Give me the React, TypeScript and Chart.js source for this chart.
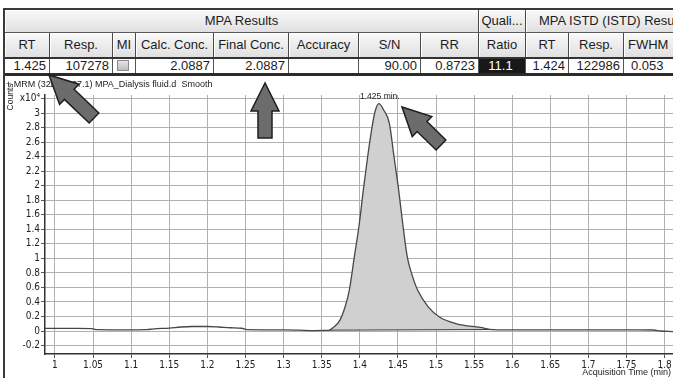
import React, { useEffect, useRef } from "react";
import { Chart, registerables } from "chart.js";

Chart.register(...registerables);

// ---------------- table data ----------------
const groupHeaders = ["MPA Results", "Quali...", "MPA ISTD (ISTD) Results"];
const columnHeaders = ["RT", "Resp.", "MI", "Calc. Conc.", "Final Conc.", "Accuracy", "S/N", "RR", "Ratio", "RT", "Resp.", "FWHM"];
const rowValues = ["1.425", "107278", "", "2.0887", "2.0887", "", "90.00", "0.8723", "11.1", "1.424", "122986", "0.053"];

// ---------------- chromatogram data (Counts x10^4 vs Acquisition Time, min) ----------------
const acqTimes = [
  0.987, 1.0, 1.03, 1.048, 1.055, 1.08, 1.1, 1.12, 1.13, 1.15, 1.165, 1.18, 1.2, 1.215, 1.23, 1.245,
  1.252, 1.28, 1.3, 1.32, 1.34, 1.355, 1.36, 1.3652, 1.374, 1.3806, 1.3862, 1.3928, 1.3994, 1.4046,
  1.4103, 1.4169, 1.4205, 1.425, 1.4315, 1.4388, 1.4449, 1.451, 1.4563, 1.4623, 1.468, 1.476, 1.49,
  1.505, 1.527, 1.558, 1.575, 1.6, 1.65, 1.7, 1.75, 1.785, 1.795, 1.811,
];
const countsE4 = [
  0.035, 0.035, 0.035, 0.034, 0.018, 0.016, 0.016, 0.018, 0.03, 0.04, 0.055, 0.062, 0.062, 0.055, 0.045, 0.038,
  0.018, 0.016, 0.016, 0.012, 0.006, 0.008, 0.012, 0.05, 0.15, 0.33, 0.56, 1.02, 1.48, 1.94,
  2.4, 2.86, 3.04, 3.13, 3.04, 2.86, 2.4, 1.94, 1.48, 1.02, 0.79, 0.56, 0.33,
  0.19, 0.1, 0.05, 0.02, 0.016, 0.016, 0.015, 0.015, 0.014, 0.0, -0.008,
];
const xTickValues = [1, 1.05, 1.1, 1.15, 1.2, 1.25, 1.3, 1.35, 1.4, 1.45, 1.5, 1.55, 1.6, 1.65, 1.7, 1.75, 1.8];
const xTickLabels = ["1", "1.05", "1.1", "1.15", "1.2", "1.25", "1.3", "1.35", "1.4", "1.45", "1.5", "1.55", "1.6", "1.65", "1.7", "1.75", "1.8"];
const yTickValues = [-0.2, 0, 0.2, 0.4, 0.6, 0.8, 1, 1.2, 1.4, 1.6, 1.8, 2, 2.2, 2.4, 2.6, 2.8, 3, 3.2];
const yTickLabels = ["-0.2", "0", "0.2", "0.4", "0.6", "0.8", "1", "1.2", "1.4", "1.6", "1.8", "2", "2.2", "2.4", "2.6", "2.8", "3", "x10\u2074"];
const peakStartTime = 1.36;
const peakEndTime = 1.575;
const peakRT = 1.425;
const peakLabel = "1.425 min.";
const chartTitleParts = ["+ MRM (32", "1.1 -> ", "207.1) MPA_Dialysis fluid.d  Smooth"];
const yAxisTitle = "Counts";
const xAxisTitle = "Acquisition Time (min)";

// ---------------- layout ----------------
const W = 673;
const H = 378;
const X_MIN = 0.9869;
const X_MAX = 1.811;
const Y_MIN = -0.3165;
const Y_MAX = 3.25;
const colEdges = [4, 49, 112, 135, 213, 288, 358, 420, 478, 525, 568, 623, 740];
const groupColSpans = [[0, 8], [8, 9], [9, 12]];
const highlightCol = 8;
const checkboxCol = 2;
const FONT = '"Liberation Sans", Arial, sans-serif';
const NARROW = '"Liberation Sans Narrow", "Arial Narrow", "DejaVu Sans Condensed", "Liberation Sans", sans-serif';
const arrows = [
  { tip: [49, 75], tail: [94, 118] },
  { tip: [265, 83], tail: [265, 138] },
  { tip: [402, 107], tail: [441, 145] },
];

function drawArrow(ctx: CanvasRenderingContext2D, tip: number[], tail: number[]) {
  const headLen = 28, headHalf = 14, shaftHalf = 7;
  const dx = tail[0] - tip[0], dy = tail[1] - tip[1];
  const len = Math.hypot(dx, dy);
  const ux = dx / len, uy = dy / len;
  const px = -uy, py = ux;
  const bx = tip[0] + ux * headLen, by = tip[1] + uy * headLen;
  ctx.save();
  ctx.beginPath();
  ctx.moveTo(tip[0], tip[1]);
  ctx.lineTo(bx + px * headHalf, by + py * headHalf);
  ctx.lineTo(bx + px * shaftHalf, by + py * shaftHalf);
  ctx.lineTo(tail[0] + px * shaftHalf, tail[1] + py * shaftHalf);
  ctx.lineTo(tail[0] - px * shaftHalf, tail[1] - py * shaftHalf);
  ctx.lineTo(bx - px * shaftHalf, by - py * shaftHalf);
  ctx.lineTo(bx - px * headHalf, by - py * headHalf);
  ctx.closePath();
  ctx.fillStyle = "#6c6c6c";
  ctx.fill();
  ctx.lineWidth = 1.5;
  ctx.strokeStyle = "#1e1e1e";
  ctx.lineJoin = "miter";
  ctx.stroke();
  ctx.restore();
}

const decorPlugin = {
  id: "decor",
  beforeDraw(chart: any) {
    const ctx = chart.ctx;
    ctx.save();
    ctx.fillStyle = "#3a3a3a";
    ctx.fillRect(3, 74, 2, H - 74);
    ctx.restore();
  },
  afterDraw(chart: any) {
    const ctx: CanvasRenderingContext2D = chart.ctx;
    const xs = chart.scales.x, ys = chart.scales.y;
    ctx.save();
    ctx.fillStyle = "#222";
    ctx.textBaseline = "middle";
    // title
    ctx.font = `9px ${FONT}`;
    ctx.textAlign = "left";
    ctx.fillText(chartTitleParts[0], 6, 85);
    ctx.fillText(chartTitleParts[1], 50, 85, 17);
    ctx.fillText(chartTitleParts[2], 67, 85);
    // peak label
    const pi = acqTimes.indexOf(peakRT);
    ctx.font = `8.5px ${FONT}`;
    ctx.textAlign = "center";
    ctx.fillText(peakLabel, xs.getPixelForValue(peakRT) + 1, ys.getPixelForValue(countsE4[pi]) - 7);
    // x axis title
    ctx.font = `9px ${FONT}`;
    ctx.textAlign = "right";
    ctx.fillText(xAxisTitle, 671, 373);
    // y axis title
    ctx.save();
    ctx.translate(11, 97);
    ctx.rotate(-Math.PI / 2);
    ctx.font = `8.5px ${FONT}`;
    ctx.textAlign = "center";
    ctx.fillText(yAxisTitle, 0, 0);
    ctx.restore();
    ctx.restore();
    arrows.forEach((a) => drawArrow(ctx, a.tip, a.tail));
  },
};

function ChromChart() {
  const ref = useRef<HTMLCanvasElement | null>(null);
  useEffect(() => {
    if (!ref.current) return;
    const trace = acqTimes.map((t, i) => ({ x: t, y: countsE4[i] }));
    const peakPts = trace.filter((p) => p.x >= peakStartTime && p.x <= peakEndTime);
    const iStart = acqTimes.indexOf(peakStartTime);
    const iEnd = acqTimes.indexOf(peakEndTime);
    const baseLine = [
      { x: peakStartTime, y: countsE4[iStart] },
      { x: peakEndTime, y: countsE4[iEnd] },
    ];
    const fillLevel = (countsE4[iStart] + countsE4[iEnd]) / 2;
    const tickFont = { size: 10, family: NARROW };
    const chart = new Chart(ref.current, {
      type: "line",
      data: {
        datasets: [
          {
            data: trace,
            borderColor: "#474747",
            borderWidth: 1.3,
            pointRadius: 0,
            cubicInterpolationMode: "monotone",
            fill: false,
          },
          {
            data: baseLine,
            borderColor: "#333",
            borderWidth: 1,
            pointRadius: 0,
            fill: false,
          },
          {
            data: peakPts,
            borderWidth: 0,
            borderColor: "rgba(0,0,0,0)",
            backgroundColor: "#d0d0d0",
            pointRadius: 0,
            cubicInterpolationMode: "monotone",
            fill: { value: fillLevel },
          },
        ],
      },
      options: {
        animation: false,
        responsive: false,
        devicePixelRatio: 1,
        layout: { padding: { top: 95, left: 0, right: 0, bottom: 0 } },
        plugins: { legend: { display: false }, tooltip: { enabled: false } },
        scales: {
          x: {
            type: "linear",
            min: X_MIN,
            max: X_MAX,
            afterFit: (s: any) => { s.height = 24; },
            afterBuildTicks: (s: any) => { s.ticks = xTickValues.map((v) => ({ value: v })); },
            ticks: {
              autoSkip: false,
              maxRotation: 0,
              minRotation: 0,
              padding: 1,
              font: tickFont,
              color: "#222",
              callback: (_v: any, i: number) => xTickLabels[i],
            },
            grid: { color: "#b0b0b0", lineWidth: 1, tickLength: 4, tickColor: "#555" },
            border: { color: "#333", width: 1.5 },
          },
          y: {
            type: "linear",
            min: Y_MIN,
            max: Y_MAX,
            afterFit: (s: any) => { s.width = 45; },
            afterBuildTicks: (s: any) => { s.ticks = yTickValues.map((v) => ({ value: v })); },
            ticks: {
              autoSkip: false,
              padding: 1,
              font: tickFont,
              color: "#222",
              callback: (_v: any, i: number) => yTickLabels[i],
            },
            grid: { color: "#b0b0b0", lineWidth: 1, tickLength: 4, tickColor: "#555" },
            border: { color: "#333", width: 1.5 },
          },
        },
      },
      plugins: [decorPlugin],
    } as any);
    return () => chart.destroy();
  }, []);
  return (
    <canvas
      ref={ref}
      width={W}
      height={H}
      style={{ position: "absolute", left: 0, top: 0, width: W, height: H, zIndex: 2 }}
    />
  );
}

function ResultsTable() {
  const headerBg = "linear-gradient(#f9f9f9, #e0e0e0)";
  return (
    <div
      style={{
        position: "absolute", left: 0, top: 0, width: W, height: 77, overflow: "hidden",
        fontFamily: FONT, fontSize: 13, color: "#1c1c1c", zIndex: 1, background: "#fff",
      }}
    >
      {groupColSpans.map(([a, b], i) => (
        <div
          key={"g" + i}
          style={{
            position: "absolute", left: colEdges[a], top: 10, width: colEdges[b] - colEdges[a], height: 22,
            background: headerBg, borderLeft: "1px solid #4a4a4a", boxSizing: "border-box",
            boxShadow: "inset 1px 1px 0 #fff", lineHeight: "22px", whiteSpace: "nowrap",
            textAlign: i === 2 ? "left" : "center", paddingLeft: i === 2 ? 13 : 0,
          }}
        >
          {groupHeaders[i]}
        </div>
      ))}
      {columnHeaders.map((h, i) => (
        <div
          key={"h" + i}
          style={{
            position: "absolute", left: colEdges[i], top: 33, width: colEdges[i + 1] - colEdges[i], height: 24,
            background: headerBg, borderLeft: "1px solid #4a4a4a", boxSizing: "border-box",
            boxShadow: "inset 1px 1px 0 #fff", lineHeight: "24px", whiteSpace: "nowrap",
            textAlign: i === columnHeaders.length - 1 ? "left" : "center", paddingLeft: i === columnHeaders.length - 1 ? 4 : 0,
          }}
        >
          {h}
        </div>
      ))}
      {rowValues.map((v, i) => (
        <div
          key={"v" + i}
          style={{
            position: "absolute", left: colEdges[i], top: 59, width: colEdges[i + 1] - colEdges[i], height: 14,
            background: i === highlightCol ? "#181818" : "#fff", color: i === highlightCol ? "#fff" : "#1c1c1c",
            borderLeft: "1px solid #555", boxSizing: "border-box", lineHeight: "14px", whiteSpace: "nowrap",
            textAlign: i === highlightCol ? "center" : i === columnHeaders.length - 1 ? "left" : "right",
            paddingRight: 3, paddingLeft: i === columnHeaders.length - 1 ? 7 : 0,
          }}
        >
          {v}
          {i === checkboxCol ? (
            <div
              style={{
                position: "absolute", left: 4, top: 1, width: 12, height: 11, boxSizing: "border-box",
                border: "1px solid #8a8a8a", background: "linear-gradient(#e4e4e4, #bdbdbd)",
              }}
            />
          ) : null}
        </div>
      ))}
      <div style={{ position: "absolute", left: 3, top: 8, width: W, height: 2, background: "#3a3a3a" }} />
      <div style={{ position: "absolute", left: 3, top: 32, width: W, height: 1, background: "#5a5a5a" }} />
      <div style={{ position: "absolute", left: 3, top: 57, width: W, height: 2, background: "#333" }} />
      <div style={{ position: "absolute", left: 3, top: 73, width: W, height: 3, background: "#2b2b2b" }} />
      <div style={{ position: "absolute", left: 3, top: 8, width: 2, height: 68, background: "#3a3a3a" }} />
    </div>
  );
}

export default function App() {
  return (
    <div style={{ position: "fixed", left: 0, top: 0, width: W, height: H, overflow: "hidden", background: "#fff" }}>
      <ResultsTable />
      <ChromChart />
    </div>
  );
}
